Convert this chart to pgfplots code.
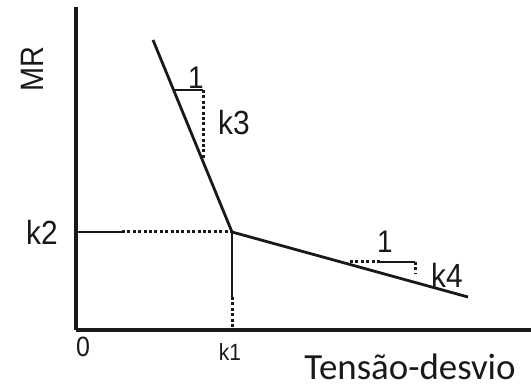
\documentclass[border=0pt]{standalone}
\usepackage{graphicx}
\usepackage{pgfplots}
\pgfplotsset{compat=1.18}
\usepackage{fontspec}
\setmainfont{Liberation Sans}
\newfontfamily\calibri{Carlito}

\newcommand{\lbl}[2]{\fontsize{#1}{#1}\selectfont\scalebox{1}[1.12]{#2}}

\begin{document}
\begin{tikzpicture}
\useasboundingbox (0,0) rectangle (531bp,389bp);
\begin{axis}[
  at={(76bp,59bp)}, anchor=south west,
  scale only axis, width=455bp, height=323bp,
  xmin=0, xmax=455, ymin=0, ymax=323,
  axis x line=bottom, axis y line=left,
  axis line style={-, line width=3bp, black!90},
  xtick=\empty, ytick=\empty,
  clip=false,
  seg/.style={black!90, line width=2.8bp, no markers},
  dots/.style={seg, line width=3bp, dash pattern=on 3bp off 2.4bp},
]
  % two-branch resilient modulus model
  \addplot[seg] coordinates {(77,290) (156,98)};
  \addplot[seg] coordinates {(156,98) (392,33)};

  % break point guides
  \addplot[seg] coordinates {(0,98) (46,98)};
  \addplot[dots] coordinates {(46,98) (156,98)};
  \addplot[seg] coordinates {(156,98) (156,33)};
  \addplot[dots] coordinates {(156,33) (156,0)};

  % slope triangle k3
  \addplot[seg] coordinates {(99,240) (127,240)};
  \addplot[dots] coordinates {(127,240) (127,170)};

  % slope triangle k4
  \addplot[dots] coordinates {(274,68) (304,68)};
  \addplot[seg] coordinates {(304,68) (339,68)};
  \addplot[dots] coordinates {(339,68) (339,57)};

  % labels
  \node[rotate=90, text=black!90] at (axis cs:-44,261) {\lbl{29}{MR}};
  \node[text=black!90] at (axis cs:-34,98) {\lbl{30}{k2}};
  \node[text=black!90] at (axis cs:7,-17) {\lbl{25}{0}};
  \node[text=black!90] at (axis cs:154,-22) {\lbl{21}{k1}};
  \node[text=black!90] at (axis cs:334,-37) {\calibri\fontsize{37}{37}\selectfont Tensão-desvio};
  \node[text=black!90] at (axis cs:158,207) {\lbl{30}{k3}};
  \node[text=black!90] at (axis cs:120,252) {\lbl{28}{1}};
  \node[text=black!90] at (axis cs:371,55) {\lbl{30}{k4}};
  \node[text=black!90] at (axis cs:309,88) {\lbl{28}{1}};
\end{axis}
\end{tikzpicture}
\end{document}
